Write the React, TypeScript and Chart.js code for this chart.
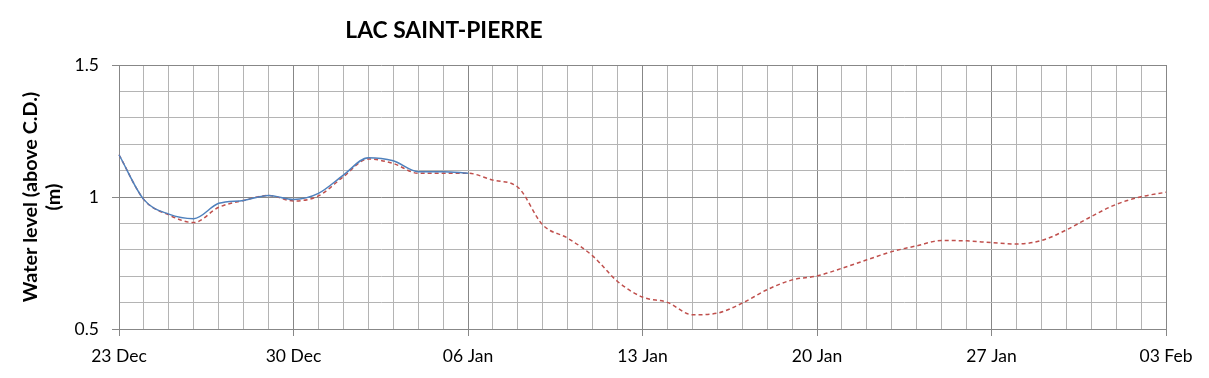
import React, { useEffect, useRef } from "react";
import { Chart, registerables } from "chart.js";

Chart.register(...registerables);

const dateLabels: string[] = [
  "23 Dec", "24 Dec", "25 Dec", "26 Dec", "27 Dec", "28 Dec", "29 Dec",
  "30 Dec", "31 Dec", "01 Jan", "02 Jan", "03 Jan", "04 Jan", "05 Jan",
  "06 Jan", "07 Jan", "08 Jan", "09 Jan", "10 Jan", "11 Jan", "12 Jan",
  "13 Jan", "14 Jan", "15 Jan", "16 Jan", "17 Jan", "18 Jan", "19 Jan",
  "20 Jan", "21 Jan", "22 Jan", "23 Jan", "24 Jan", "25 Jan", "26 Jan",
  "27 Jan", "28 Jan", "29 Jan", "30 Jan", "31 Jan", "01 Feb", "02 Feb",
  "03 Feb",
];

const observed: (number | null)[] = [
  1.16, 0.99, 0.935, 0.918, 0.976, 0.987, 1.006, 0.991, 1.014, 1.083, 1.149,
  1.137, 1.096, 1.096, 1.09,
];

const forecast: number[] = [
  1.16, 0.99, 0.932, 0.903, 0.961, 0.987, 1.006, 0.985, 1.004, 1.077, 1.144,
  1.127, 1.09, 1.09, 1.09, 1.064, 1.037, 0.894, 0.844, 0.777, 0.68, 0.621,
  0.601, 0.554, 0.56, 0.598, 0.649, 0.686, 0.701, 0.73, 0.762, 0.793, 0.815,
  0.835, 0.834, 0.827, 0.822, 0.835, 0.875, 0.926, 0.972, 1.001, 1.018,
];

const chartTitle = "LAC SAINT-PIERRE";
const yTitleLines: string[] = ["Water level (above C.D.)", "(m)"];

const MAJOR = "#878787";
const MINOR = "#b4b4b4";
const FONT = "Lato, 'Open Sans', sans-serif";

const textPlugin = {
  id: "textPlugin",
  afterDraw(chart: any) {
    const ctx = chart.ctx;
    ctx.save();
    ctx.fillStyle = "#000";
    ctx.font = `bold 22.8px ${FONT}`;
    ctx.textAlign = "center";
    ctx.textBaseline = "alphabetic";
    ctx.fillText(chartTitle, 444, 37.5);

    const cy = (chart.chartArea.top + chart.chartArea.bottom) / 2;
    ctx.font = `bold 19.8px ${FONT}`;
    ctx.textBaseline = "middle";
    const xs = [30.5, 54];
    yTitleLines.forEach((line, i) => {
      ctx.save();
      ctx.translate(xs[i], cy);
      ctx.rotate(-Math.PI / 2);
      ctx.fillText(line, 0, 0);
      ctx.restore();
    });
    ctx.restore();
  },
};

const isHalf = (v: number) => Math.abs(v * 2 - Math.round(v * 2)) < 1e-6;

export default function App() {
  const ref = useRef<HTMLCanvasElement | null>(null);

  useEffect(() => {
    if (!ref.current) return;
    const chart = new Chart(ref.current, {
      type: "line",
      data: {
        labels: dateLabels,
        datasets: [
          {
            label: "Observed",
            data: observed,
            borderColor: "#4f81bd",
            borderWidth: 1.5,
            pointRadius: 0,
            fill: false,
            cubicInterpolationMode: "monotone",
            spanGaps: false,
          },
          {
            label: "Forecast",
            data: forecast,
            borderColor: "#c0504d",
            borderWidth: 1.5,
            borderDash: [4, 3],
            pointRadius: 0,
            fill: false,
            cubicInterpolationMode: "monotone",
          },
        ],
      },
      options: {
        animation: false,
        responsive: false,
        layout: { padding: { top: 65, right: 43, left: 0, bottom: 0 } },
        plugins: {
          legend: { display: false },
          title: { display: false },
          tooltip: { enabled: false },
        },
        scales: {
          x: {
            type: "category",
            offset: false,
            afterFit: (s: any) => {
              s.height = 49;
            },
            grid: {
              color: (c: any) => (c.index % 7 === 0 ? MAJOR : MINOR),
              tickColor: (c: any) => (c.index % 7 === 0 ? MAJOR : "rgba(0,0,0,0)"),
              tickLength: 7,
              lineWidth: 1,
            },
            border: { color: MAJOR },
            ticks: {
              autoSkip: false,
              maxRotation: 0,
              minRotation: 0,
              padding: 10,
              color: "#000",
              font: { family: FONT, size: 17.5 },
              callback: (_v: any, i: number) => (i % 7 === 0 ? dateLabels[i] : ""),
            },
          },
          y: {
            min: 0.5,
            max: 1.5,
            afterFit: (s: any) => {
              s.width = 119;
            },
            grid: {
              color: (c: any) => (c.tick && isHalf(c.tick.value) ? MAJOR : MINOR),
              tickColor: (c: any) =>
                c.tick && isHalf(c.tick.value) ? MAJOR : "rgba(0,0,0,0)",
              tickLength: 7,
              lineWidth: 1,
            },
            border: { color: MAJOR },
            ticks: {
              stepSize: 0.1,
              padding: 13,
              color: "#000",
              font: { family: FONT, size: 17.5 },
              callback: (v: any) => {
                const n = Number(v);
                if (!isHalf(n)) return "";
                return String(Math.round(n * 10) / 10);
              },
            },
          },
        },
      },
      plugins: [textPlugin],
    });
    return () => chart.destroy();
  }, []);

  return (
    <div style={{ position: "absolute", left: 0, top: 0, width: 1209, height: 378, background: "#fff" }}>
      <canvas ref={ref} width={1209} height={378} />
    </div>
  );
}
